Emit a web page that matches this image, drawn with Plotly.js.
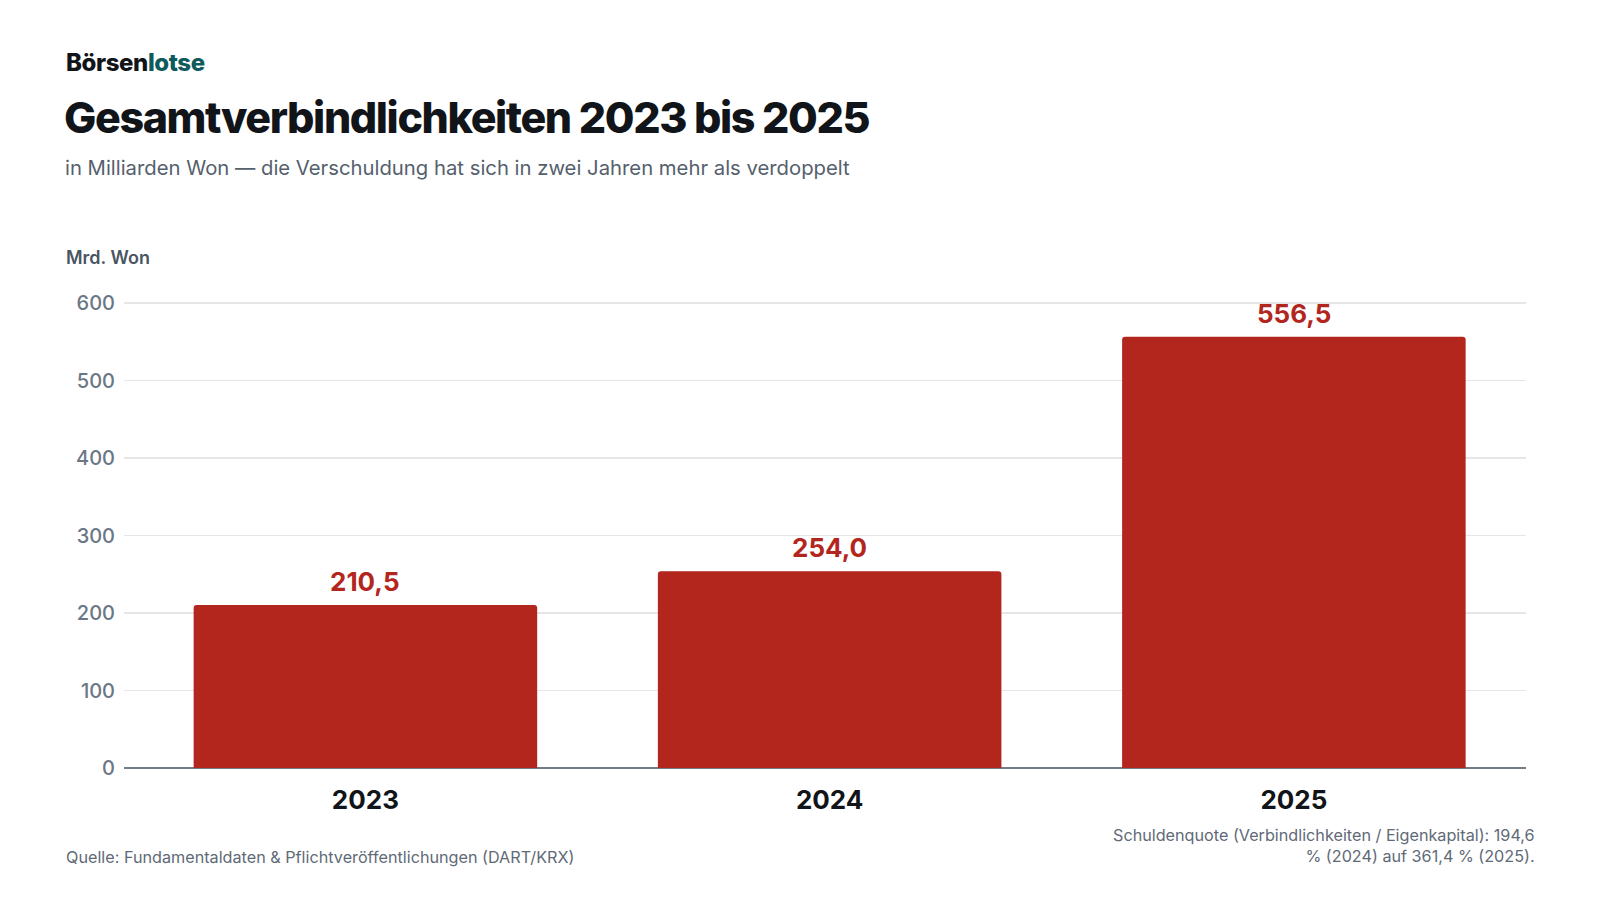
<!DOCTYPE html>
<html>
<head>
<meta charset="utf-8">
<script src="https://cdn.plot.ly/plotly-3.0.1.min.js"></script>
<style>
  html, body { margin: 0; padding: 0; background: #fff; }
  #chart { width: 1600px; height: 900px; }
</style>
</head>
<body>
<div id="chart"></div>
<script>
// data
const years = ['2023', '2024', '2025'];
const liabilities = [210.5, 254.0, 556.5];
const yTicks = [0, 100, 200, 300, 400, 500, 600];

const red = '#b3261e';
const font = 'Inter, "Noto Sans", sans-serif';

// plot area in pixels (top leaves room so the 600 gridline is drawn)
const L = 124, R = 1526, T = 300, B = 768;
const px = x => (x - L) / (R - L);
const py = y => (B - y) / (B - T);

function fmt(v) {
    return v.toFixed(1).replace('.', ',');
}

const trace = {
    type: 'bar',
    x: years,
    y: liabilities,
    marker: { color: red, cornerradius: 3, line: { width: 0 } },
    hoverinfo: 'skip'
};

// value labels above the bars (x by category index, the names look like numbers)
const valueLabels = years.map((yr, i) => ({
    x: i, y: liabilities[i], xref: 'x', yref: 'y',
    text: fmt(liabilities[i]),
    showarrow: false, yanchor: 'bottom', yshift: 6,
    font: { family: font, size: 26, color: red, weight: 700 }
}));

const textNotes = [
    { x: px(64), y: py(62), text: '<span style="letter-spacing:-0.4px">Börsen<span style="color:#0f5a5c">lotse</span></span>',
      xanchor: 'left', yanchor: 'middle',
      font: { family: font, size: 24, color: '#111418', weight: 800 } },
    { x: px(62), y: py(117), text: '<span style="letter-spacing:-1.4px">Gesamtverbindlichkeiten 2023 bis 2025</span>',
      xanchor: 'left', yanchor: 'middle',
      font: { family: font, size: 43, color: '#111418', weight: 800 } },
    { x: px(63), y: py(168), text: 'in Milliarden Won — die Verschuldung hat sich in zwei Jahren mehr als verdoppelt',
      xanchor: 'left', yanchor: 'middle',
      font: { family: font, size: 20.3, color: '#55606d' } },
    { x: px(64), y: py(257), text: 'Mrd. Won',
      xanchor: 'left', yanchor: 'middle',
      font: { family: font, size: 18, color: '#4a5563', weight: 600 } },
    { x: px(64), y: py(857), text: 'Quelle: Fundamentaldaten &amp; Pflichtveröffentlichungen (DART/KRX)',
      xanchor: 'left', yanchor: 'middle',
      font: { family: font, size: 16.2, color: '#5f6a77' } },
    { x: px(1537), y: py(845), text: 'Schuldenquote (Verbindlichkeiten / Eigenkapital): 194,6<br>% (2024) auf 361,4 % (2025).',
      xanchor: 'right', yanchor: 'middle', align: 'right',
      font: { family: font, size: 16.2, color: '#5f6a77' } }
].map(a => Object.assign({ xref: 'paper', yref: 'paper', showarrow: false }, a));

const layout = {
    width: 1600,
    height: 900,
    margin: { l: L, r: 1600 - R, t: T, b: 900 - B, pad: 0 },
    paper_bgcolor: '#ffffff',
    plot_bgcolor: '#ffffff',
    showlegend: false,
    bargap: 0.26,
    font: { family: font },
    xaxis: {
        type: 'category',
        range: [-0.52, 2.5],
        showline: false,
        showgrid: false,
        zeroline: false,
        ticks: '',
        ticklabelstandoff: 14,
        tickfont: { family: font, size: 26, color: '#111418', weight: 700 },
        fixedrange: true
    },
    yaxis: {
        range: [0, 604],
        tickvals: yTicks,
        ticktext: yTicks.map(String),
        showline: false,
        gridcolor: '#e6e6e6',
        gridwidth: 1.5,
        zeroline: true,
        zerolinecolor: '#737d89',
        zerolinewidth: 2,
        ticks: '',
        ticklabelstandoff: 8,
        tickfont: { family: font, size: 20, color: '#6b7785', weight: 500 },
        fixedrange: true
    },
    annotations: valueLabels.concat(textNotes)
};

Plotly.newPlot('chart', [trace], layout, { displayModeBar: false, staticPlot: true });
</script>
</body>
</html>
